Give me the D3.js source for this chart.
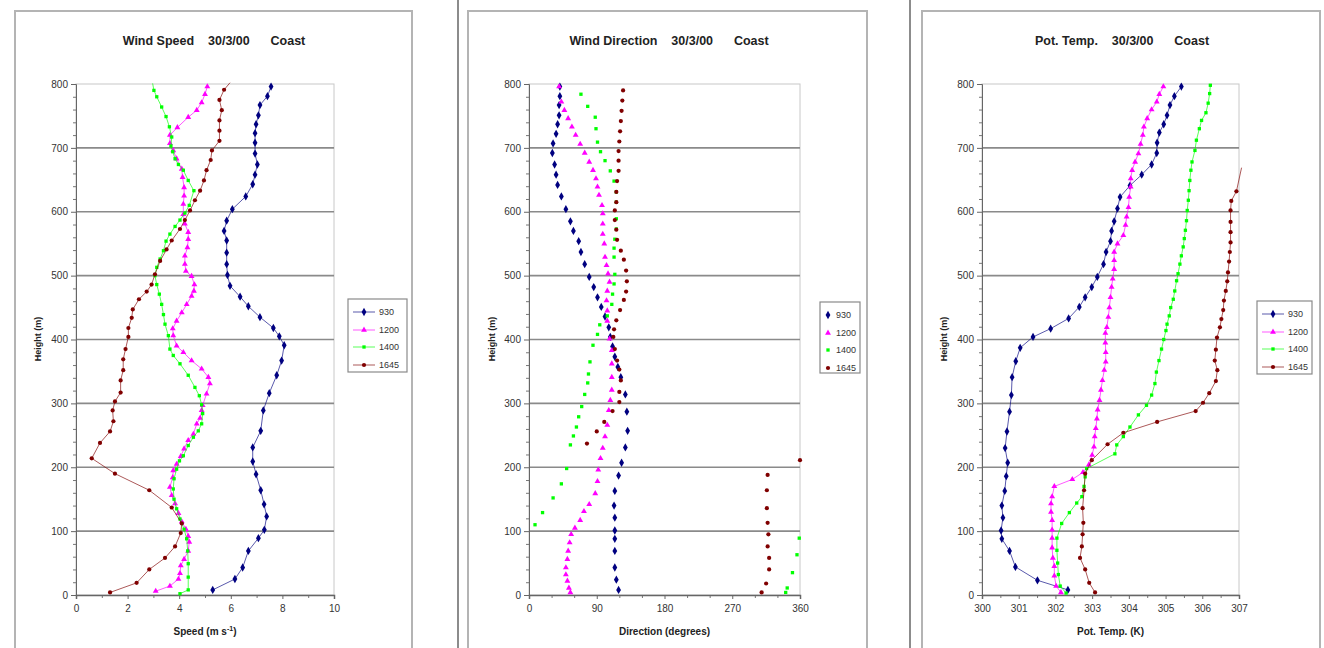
<!DOCTYPE html>
<html>
<head>
<meta charset="utf-8">
<script src="https://cdn.jsdelivr.net/npm/d3@7"></script>
<style>
body { margin: 0; background: #fff; }
svg { display: block; font-family: "Liberation Sans", Arial, sans-serif; }
</style>
</head>
<body>
<script>
// series names (launch times)
var seriesNames = ["930", "1200", "1400", "1645"];
var seriesColors = ["#000080", "#ff00ff", "#00ff00", "#800000"];

// ---- Wind speed (m/s) ----
var spd930H = [8,25,43,69,89,102,123,142,164,189,209,231,257,289,316,344,367,391,405,418,435,452,467,484,501,518,536,555,570,586,604,624,643,658,674,691,708,723,737,751,767,781,796];
var spd930V = [5.30,6.16,6.46,6.68,7.07,7.30,7.39,7.29,7.16,6.98,6.85,6.85,7.16,7.26,7.49,7.78,7.97,8.07,7.88,7.65,7.13,6.68,6.36,5.97,5.87,5.84,5.84,5.84,5.74,5.84,6.06,6.58,6.85,6.94,7.03,6.94,6.94,6.94,6.98,7.07,7.13,7.42,7.56];
var spd1200H = [6,14,25,34,46,56,69,83,92,103,115,128,143,156,169,184,195,205,217,229,242,252,268,277,289,297,315,331,341,354,367,380,390,406,
  417,429,442,455,468,476,486,499,507,518,531,544,557,568,581,596,612,625,638,654,667,683,696,707,720,732,748,759,771,784,796];
var spd1200V = [3.09,3.64,3.97,4.03,4.06,4.19,4.35,4.39,4.35,4.26,4.10,3.97,3.84,3.71,3.64,3.75,3.77,3.90,4.06,4.19,4.35,4.55,4.68,4.81,4.87,4.91,5.06,5.19,5.13,4.87,4.48,4.16,3.90,3.77,
  3.75,3.90,4.10,4.29,4.48,4.57,4.59,4.48,4.26,4.22,4.22,4.32,4.35,4.35,4.22,4.16,4.16,4.19,4.19,4.13,4.10,3.90,3.77,3.64,3.64,3.93,4.35,4.68,4.87,5.00,5.09];
var spd1400H = [2,8,28,49,69,88,103,119,135,150,166,182,197,210,218,234,247,257,268,284,298,312,325,344,362,375,385,406,424,439,
  455,471,486,500,513,526,539,554,565,577,587,598,610,633,649,665,674,683,694,703,717,733,749,764,780,790,801];
var spd1400V = [4.03,4.35,4.35,4.35,4.33,4.29,4.19,4.03,3.90,3.80,3.77,3.80,3.90,4.01,4.16,4.35,4.55,4.74,4.87,4.91,4.87,4.78,4.61,4.35,4.03,3.77,3.64,3.58,3.45,3.39,
  3.32,3.23,3.13,3.06,3.13,3.26,3.39,3.49,3.64,3.84,4.03,4.22,4.39,4.57,4.35,4.16,3.97,3.84,3.75,3.68,3.71,3.62,3.49,3.32,3.13,3.02,2.97];
var spd1645H = [4,19,40,58,76,97,112,137,164,190,214,238,256,272,289,303,317,336,352,369,385,404,418,434,447,463,475,486,502,523,
  541,555,573,587,602,618,633,649,665,681,696,711,727,743,759,775,791,802];
var spd1645V = [1.32,2.35,2.84,3.45,3.84,4.06,4.10,3.71,2.84,1.51,0.61,0.93,1.32,1.45,1.42,1.51,1.73,1.73,1.83,1.83,1.92,2.03,2.03,2.16,2.20,2.44,2.74,2.93,3.06,3.26,
  3.51,3.71,4.03,4.22,4.42,4.61,4.81,4.96,5.06,5.22,5.27,5.56,5.56,5.56,5.65,5.56,5.74,5.97];

// ---- Wind direction (degrees) ----
var dir930H = [8,24,43,69,88,101,121,140,163,187,207,231,257,287,314,341,357,373,389,404,419,436,451,466,482,498,518,537,554,570,585,604,624,642,658,674,692,707,722,737,751,767,781,796];
var dir930V = [119,116,114,114,114,114,114,113,114,119,123,128,131,130,128,122,118,114,111,108,106,101,96,91,86,80,74,69,66,59,55,49,43,38,36,34,31,32,36,38,40,40,41,41];
var dir1200H = [4,11,22,32,43,56,69,82,95,105,117,131,142,159,178,196,214,230,248,266,289,305,321,341,362,383,401,429,445,461,476,490,503,516,529,550,565,581,597,610,626,639,652,665,678,692,706,720,733,746,759,772,796];
var dir1200V = [55,53,51,49,49,51,52,54,56,61,68,73,80,88,91,92,95,98,101,104,106,108,110,110,110,110,107,104,104,103,104,107,105,103,101,100,98,98,98,97,93,91,89,85,80,74,68,62,57,52,47,43,40];
var dir1400H = [4,11,35,63,89,110,129,152,174,198,235,249,263,279,295,314,332,346,365,391,408,423,437,455,471,487,502,529,543,557,573,589,615,631,648,664,680,694,709,730,748,765,784];
var dir1400V = [341,343,350,356,359,8,18,32,43,50,55,59,63,66,70,74,78,79,81,85,91,94,104,110,111,113,114,113,113,114,116,116,116,116,113,108,101,95,91,89,88,78,69];
var dir1645H = [4,18,40,58,76,95,113,136,164,188,211,237,256,271,288,302,318,336,353,367,385,404,416,430,446,462,475,491,508,525,539,556,572,587,602,615,631,648,664,680,695,710,726,742,758,774,790];
var dir1645V = [309,315,319,319,317,318,317,316,316,317,360,77,90,100,111,120,120,122,120,117,114,112,113,116,121,126,129,130,129,126,122,117,116,114,114,116,116,117,119,119,119,120,121,122,123,124,125];

// ---- Potential temperature (K) ----
var pt930H = [8,23,44,69,88,101,121,140,163,186,207,230,256,287,313,341,366,387,404,417,433,451,466,482,498,518,537,554,570,585,605,623,641,658,674,692,708,724,737,751,767,781,796];
var pt930V = [302.34,301.51,300.91,300.75,300.54,300.52,300.57,300.54,300.62,300.66,300.70,300.63,300.68,300.75,300.80,300.82,300.92,301.04,301.39,301.87,
  302.36,302.65,302.81,302.99,303.14,303.31,303.38,303.50,303.53,303.60,303.69,303.76,304.03,304.35,304.62,304.76,304.77,304.83,304.95,305.04,305.12,305.24,305.43];
var pt1200H = [4,14,30,45,58,74,89,102,117,130,143,154,170,181,192,204,219,232,248,261,276,290,305,321,336,352,365,380,395,410,
  419,435,450,466,482,495,510,524,537,550,563,579,592,607,623,639,652,665,678,691,706,720,733,746,760,772,784,796];
var pt1200V = [302.15,302.02,301.97,301.97,301.93,301.91,301.91,301.91,301.91,301.88,301.88,301.91,301.97,302.46,302.75,302.91,303.00,303.05,303.07,303.10,
  303.13,303.15,303.20,303.24,303.28,303.33,303.37,303.37,303.36,303.36,303.40,303.44,303.47,303.50,303.53,303.56,303.60,303.60,303.60,303.69,
  303.85,303.91,303.94,303.99,304.01,304.05,304.05,304.09,304.17,304.26,304.32,304.38,304.41,304.50,304.62,304.76,304.83,304.94];
var pt1400H = [3,14,32,50,70,89,112,129,144,154,170,185,198,221,235,248,263,282,297,313,331,349,367,385,400,414,424,437,450,463,
  476,492,503,518,531,545,558,571,586,602,618,633,649,665,678,696,712,730,743,755,770,785,798];
var pt1400V = [302.29,302.13,302.08,302.06,302.04,302.04,302.17,302.38,302.58,302.72,302.78,302.81,302.85,303.62,303.67,303.85,304.03,304.26,304.48,304.62,
  304.71,304.75,304.82,304.89,304.95,305.01,305.04,305.10,305.14,305.21,305.25,305.30,305.34,305.39,305.43,305.48,305.51,305.54,305.57,305.59,
  305.62,305.64,305.66,305.69,305.72,305.80,305.84,305.92,305.98,306.10,306.16,306.20,306.22];
var pt1645H = [4,19,40,58,76,95,113,136,164,190,211,236,254,271,288,301,316,335,352,367,384,403,419,432,446,461,476,491,505,522,537,552,568,584,602,617,632,669];
var pt1645V = [303.08,302.92,302.81,302.67,302.72,302.74,302.76,302.74,302.78,302.81,302.99,303.42,303.85,304.77,305.82,306.02,306.19,306.37,306.41,306.34,
  306.37,306.40,306.48,306.52,306.57,306.59,306.64,306.68,306.70,306.73,306.75,306.77,306.77,306.77,306.77,306.79,306.93,307.07];

// axis ticks
var heightTicks = [0, 100, 200, 300, 400, 500, 600, 700, 800];
var speedTicks = [0, 2, 4, 6, 8, 10];
var dirTicks = [0, 90, 180, 270, 360];
var tempTicks = [300, 301, 302, 303, 304, 305, 306, 307];

var W = 1324, H = 648;
var svg = d3.select("body").append("svg")
    .attr("width", W)
    .attr("height", H);

// marker shapes per series
var symbols = [d3.symbolDiamond, d3.symbolTriangle, d3.symbolSquare, d3.symbolCircle];
var symSizes = [20, 15, 11, 14];

var panels = [
    {
        title: "Wind Speed    30/3/00      Coast", titleX: 214,
        xlabel: ["Speed (m s", "-1", ")"],
        frame: [15, 412], left: 76, right: 334, yLabelX: 38,
        domain: [0, 10], ticks: speedTicks, minorStep: 1,
        legend: { x: 348, y: 299, w: 59, h: 73 }, lines: true,
        series: [[spd930H, spd930V], [spd1200H, spd1200V], [spd1400H, spd1400V], [spd1645H, spd1645V]]
    },
    {
        title: "Wind Direction    30/3/00      Coast", titleX: 669,
        xlabel: ["Direction (degrees)"],
        frame: [468, 867], left: 529, right: 800, yLabelX: 492,
        domain: [0, 360], ticks: dirTicks, minorStep: 30,
        legend: { x: 820, y: 302, w: 40, h: 71 }, lines: false,
        series: [[dir930H, dir930V], [dir1200H, dir1200V], [dir1400H, dir1400V], [dir1645H, dir1645V]]
    },
    {
        title: "Pot. Temp.    30/3/00      Coast", titleX: 1122,
        xlabel: ["Pot. Temp. (K)"],
        frame: [922, 1320], left: 982, right: 1239, yLabelX: 944,
        domain: [300, 307], ticks: tempTicks, minorStep: 0.5,
        legend: { x: 1257, y: 301, w: 55, h: 73 }, lines: true,
        series: [[pt930H, pt930V], [pt1200H, pt1200V], [pt1400H, pt1400V], [pt1645H, pt1645V]]
    }
];

// dividers between the pasted charts
[458, 910].forEach(function (dx) {
    svg.append("line")
        .attr("x1", dx).attr("x2", dx)
        .attr("y1", 0).attr("y2", H)
        .attr("stroke", "#8c8c8c")
        .attr("stroke-width", 2);
});

var y = d3.scaleLinear().domain([0, 800]).range([595, 84]);

panels.forEach(function (p) {
    var g = svg.append("g");

    // chart frame
    g.append("rect")
        .attr("x", p.frame[0]).attr("y", 11)
        .attr("width", p.frame[1] - p.frame[0])
        .attr("height", H + 20)
        .attr("fill", "#fff")
        .attr("stroke", "#b4b4b4")
        .attr("stroke-width", 2);

    var x = d3.scaleLinear().domain(p.domain).range([p.left, p.right]);

    // plot area border
    g.append("rect")
        .attr("x", p.left).attr("y", y(800))
        .attr("width", p.right - p.left)
        .attr("height", y(0) - y(800))
        .attr("fill", "none")
        .attr("stroke", "#c8c8c8")
        .attr("stroke-width", 1);

    // gridlines
    g.append("g").selectAll("line")
        .data(heightTicks.filter(function (d) { return d > 0 && d < 800; }))
        .enter().append("line")
        .attr("x1", p.left).attr("x2", p.right)
        .attr("y1", function (d) { return y(d); })
        .attr("y2", function (d) { return y(d); })
        .attr("stroke", "#8a8a8a")
        .attr("stroke-width", 1.6);

    // minor ticks on y
    var yMinor = d3.range(0, 801, 20).filter(function (d) { return d % 100 !== 0; });
    g.append("g")
        .attr("transform", "translate(" + p.left + ",0)")
        .call(d3.axisLeft(y).tickValues(yMinor).tickSize(3).tickFormat(""))
        .call(function (a) { a.select(".domain").remove(); a.selectAll("line").attr("stroke", "#777"); });

    // y axis
    var ya = g.append("g")
        .attr("transform", "translate(" + p.left + ",0)")
        .call(d3.axisLeft(y).tickValues(heightTicks).tickSize(5).tickPadding(3));
    ya.select(".domain").attr("stroke", "#666");
    ya.selectAll("line").attr("stroke", "#666");
    ya.selectAll("text").attr("fill", "#333").style("font-size", "10px");

    // minor ticks on x
    var xMinor = d3.range(p.domain[0], p.domain[1] + 1e-6, p.minorStep)
        .filter(function (d) { return p.ticks.indexOf(+d.toFixed(3)) < 0; });
    g.append("g")
        .attr("transform", "translate(0," + y(0) + ")")
        .call(d3.axisBottom(x).tickValues(xMinor).tickSize(3).tickFormat(""))
        .call(function (a) { a.select(".domain").remove(); a.selectAll("line").attr("stroke", "#777"); });

    // x axis
    var xa = g.append("g")
        .attr("transform", "translate(0," + y(0) + ")")
        .call(d3.axisBottom(x).tickValues(p.ticks).tickSize(4).tickPadding(6).tickFormat(d3.format("d")));
    xa.select(".domain").attr("stroke", "#666").attr("stroke-width", 1.5);
    xa.selectAll("line").attr("stroke", "#666");
    xa.selectAll("text").attr("fill", "#333").style("font-size", "10px");

    // title
    g.append("text")
        .attr("x", p.titleX).attr("y", 45)
        .attr("text-anchor", "middle")
        .style("font-size", "12.5px")
        .style("font-weight", "bold")
        .style("white-space", "pre")
        .attr("fill", "#222")
        .text(p.title);

    // y label
    g.append("text")
        .attr("transform", "translate(" + (p.yLabelX + 3) + ",339) rotate(-90)")
        .attr("text-anchor", "middle")
        .style("font-size", "9px")
        .style("font-weight", "bold")
        .attr("fill", "#222")
        .text("Height (m)");

    // x label
    var xl = g.append("text")
        .attr("x", (p.left + p.right) / 2).attr("y", 635)
        .attr("text-anchor", "middle")
        .style("font-size", "10px")
        .style("font-weight", "bold")
        .attr("fill", "#222");
    xl.append("tspan").text(p.xlabel[0]);
    if (p.xlabel.length > 1) {
        xl.append("tspan").attr("dy", -4).style("font-size", "7px").text(p.xlabel[1]);
        xl.append("tspan").attr("dy", 4).text(p.xlabel[2]);
    }

    // series
    p.series.forEach(function (s, i) {
        var pts = s[0].map(function (h, k) { return { h: h, v: s[1][k] }; });
        if (p.lines) {
            g.append("path")
                .datum(pts)
                .attr("fill", "none")
                .attr("stroke", seriesColors[i])
                .attr("stroke-opacity", 0.65)
                .attr("stroke-width", 1)
                .attr("d", d3.line()
                    .x(function (d) { return x(d.v); })
                    .y(function (d) { return y(d.h); }));
        }
        g.append("g").selectAll("path")
            .data(pts.filter(function (d) {
                return d.h <= 800 && d.v >= p.domain[0] && d.v <= p.domain[1];
            }))
            .enter().append("path")
            .attr("transform", function (d) { return "translate(" + x(d.v) + "," + y(d.h) + ")"; })
            .attr("d", d3.symbol().type(symbols[i]).size(symSizes[i]))
            .attr("fill", seriesColors[i]);
    });

    // legend
    var L = p.legend;
    var lg = g.append("g").attr("transform", "translate(" + L.x + "," + L.y + ")");
    lg.append("rect")
        .attr("width", L.w).attr("height", L.h)
        .attr("fill", "#fff")
        .attr("stroke", "#8a8a8a")
        .attr("stroke-width", 1.2);
    var rowY = [13, 31, 48, 66];
    seriesNames.forEach(function (name, i) {
        var mx = p.lines ? 16 : 8;
        if (p.lines) {
            lg.append("line")
                .attr("x1", 5).attr("x2", 27)
                .attr("y1", rowY[i]).attr("y2", rowY[i])
                .attr("stroke", seriesColors[i])
                .attr("stroke-opacity", 0.65);
        }
        lg.append("path")
            .attr("transform", "translate(" + mx + "," + rowY[i] + ")")
            .attr("d", d3.symbol().type(symbols[i]).size(symSizes[i]))
            .attr("fill", seriesColors[i]);
        lg.append("text")
            .attr("x", p.lines ? 31 : 16).attr("y", rowY[i] + 3)
            .style("font-size", "9px")
            .attr("fill", "#333")
            .text(name);
    });
});
</script>
</body>
</html>
